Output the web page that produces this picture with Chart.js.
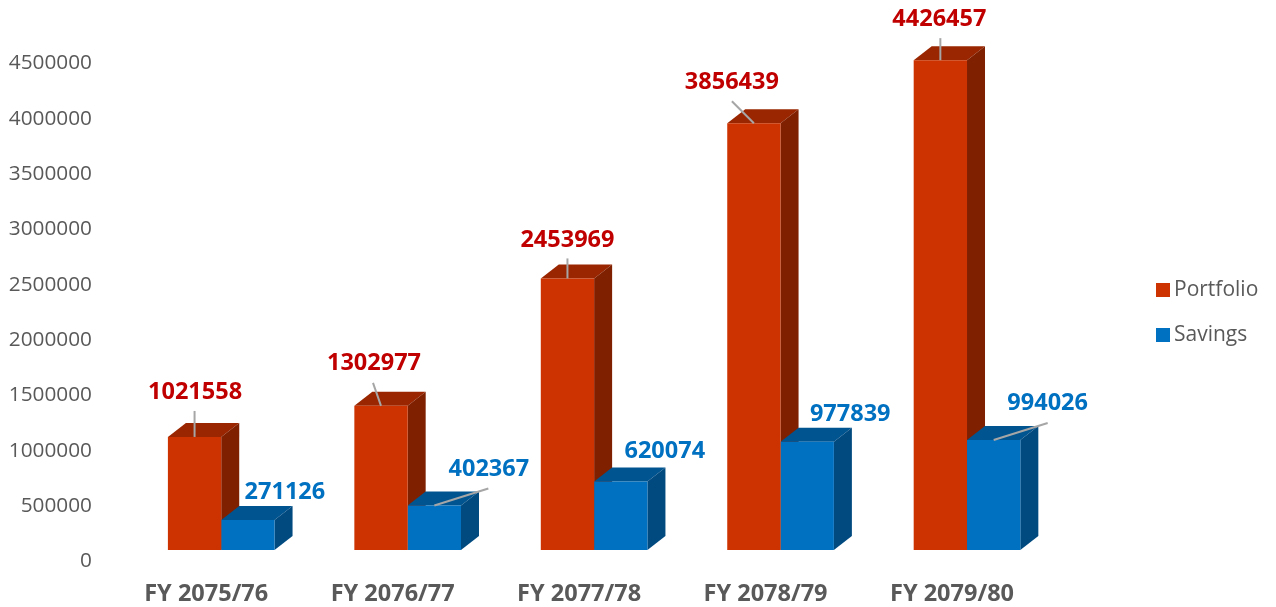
<!DOCTYPE html>
<html>
<head>
<meta charset="utf-8">
<title>Portfolio and Savings</title>
<script src="https://cdn.jsdelivr.net/npm/chart.js@4/dist/chart.umd.min.js"></script>
<style>
  html, body { margin: 0; padding: 0; background: #fff; overflow: hidden; }
  canvas { display: block; }
</style>
</head>
<body>
<canvas id="chart-area" width="1276" height="607"></canvas>
<script>
  'use strict';

  var categories = ['FY 2075/76', 'FY 2076/77', 'FY 2077/78', 'FY 2078/79', 'FY 2079/80'];
  var portfolio = [1021558, 1302977, 2453969, 3856439, 4426457];
  var savings = [271126, 402367, 620074, 977839, 994026];

  // extruded faces: front, top, side
  var portfolioColors = ['#CC3300', '#992600', '#7F2000'];
  var savingsColors = ['#0070C0', '#005490', '#004A80'];
  var labelColors = ['#C00000', '#0070C0'];
  var textColor = '#595959';
  var depthX = 18;
  var depthY = 14;

  // hand placed data labels, relative to the top centre of each bar: [dx, dy]
  var labelOffsets = [
      [[0.5, -45], [-7, -42], [0, -38.5], [-22, -40.5], [-1, -41]],
      [[37, -27.5], [54.5, -36.5], [44, -30.5], [43, -27.5], [54, -36.5]]
  ];
  var leaderEnds = [
      [[0, -26], [-8, -23], [0, -20], [-22, -22], [0, -22]],
      [null, [54, -17], null, null, [54, -17]]
  ];

  function poly(ctx, points, color) {
      ctx.beginPath();
      ctx.moveTo(points[0][0], points[0][1]);
      points.slice(1).forEach(function (p) { ctx.lineTo(p[0], p[1]); });
      ctx.closePath();
      ctx.fillStyle = color;
      ctx.fill();
  }

  var extrudePlugin = {
      id: 'extrude',
      afterLayout: function (chart) {
          // the legend sits closer to the plot than the layout would put it
          chart.legend.left = 1138.5;
          chart.legend.right = 1276;
          chart.legend.top -= 17;
          chart.legend.bottom -= 17;
      },
      beforeDatasetsDraw: function (chart) {
          var ctx = chart.ctx;
          [portfolioColors, savingsColors].forEach(function (colors, d) {
              chart.getDatasetMeta(d).data.forEach(function (bar) {
                  var l = bar.x - bar.width / 2;
                  var r = bar.x + bar.width / 2;
                  poly(ctx, [[l, bar.y], [l + depthX, bar.y - depthY], [r + depthX, bar.y - depthY], [r, bar.y]], colors[1]);
                  poly(ctx, [[r, bar.y], [r + depthX, bar.y - depthY], [r + depthX, bar.base - depthY], [r, bar.base]], colors[2]);
              });
          });
      },
      afterDatasetsDraw: function (chart) {
          var ctx = chart.ctx;
          ctx.save();
          [0, 1].forEach(function (d) {
              chart.getDatasetMeta(d).data.forEach(function (bar, i) {
                  var end = leaderEnds[d][i];
                  if (end) {
                      ctx.beginPath();
                      ctx.moveTo(bar.x, bar.y);
                      ctx.lineTo(bar.x + end[0], bar.y + end[1]);
                      ctx.strokeStyle = '#A6A6A6';
                      ctx.lineWidth = 2;
                      ctx.stroke();
                  }
                  var off = labelOffsets[d][i];
                  ctx.font = 'bold 23.5px "Open Sans"';
                  ctx.fillStyle = labelColors[d];
                  ctx.textAlign = 'center';
                  ctx.textBaseline = 'middle';
                  ctx.fillText(chart.data.datasets[d].data[i], bar.x + off[0], bar.y + off[1]);
              });
          });
          ctx.restore();
      }
  };

  new Chart(document.getElementById('chart-area').getContext('2d'), {
      type: 'bar',
      data: {
          labels: categories,
          datasets: [
              { label: 'Portfolio', data: portfolio, backgroundColor: portfolioColors[0] },
              { label: 'Savings', data: savings, backgroundColor: savingsColors[0] }
          ]
      },
      plugins: [extrudePlugin],
      options: {
          responsive: false,
          animation: false,
          layout: { padding: { left: 8, top: 52, right: 86, bottom: 0 } },
          datasets: {
              bar: { barPercentage: 1, categoryPercentage: 0.572, pointStyle: 'rect' }
          },
          plugins: {
              tooltip: { enabled: false },
              legend: {
                  position: 'right',
                  labels: {
                      usePointStyle: true,
                      pointStyle: 'rect',
                      boxWidth: 1,
                      boxHeight: 14,
                      padding: 24,
                      color: textColor,
                      font: { family: '"Open Sans"', size: 21 }
                  }
              }
          },
          scales: {
              x: {
                  afterFit: function (scale) { scale.height = 57; },
                  grid: { display: false, drawTicks: false },
                  border: { display: false },
                  ticks: {
                      autoSkip: false,
                      maxRotation: 0,
                      padding: 30,
                      labelOffset: -15,
                      color: textColor,
                      font: { family: '"Open Sans"', size: 23.5, weight: 'bold' }
                  }
              },
              y: {
                  afterFit: function (scale) { scale.width = 120; },
                  min: 0,
                  max: 4500000,
                  grid: { display: false, drawTicks: false },
                  border: { display: false },
                  ticks: {
                      stepSize: 500000,
                      padding: 36,
                      labelOffset: 11.5,
                      color: textColor,
                      font: { family: '"Open Sans"', size: 20.8 },
                      callback: function (value) { return String(value); }
                  }
              }
          }
      }
  });
</script>
</body>
</html>
